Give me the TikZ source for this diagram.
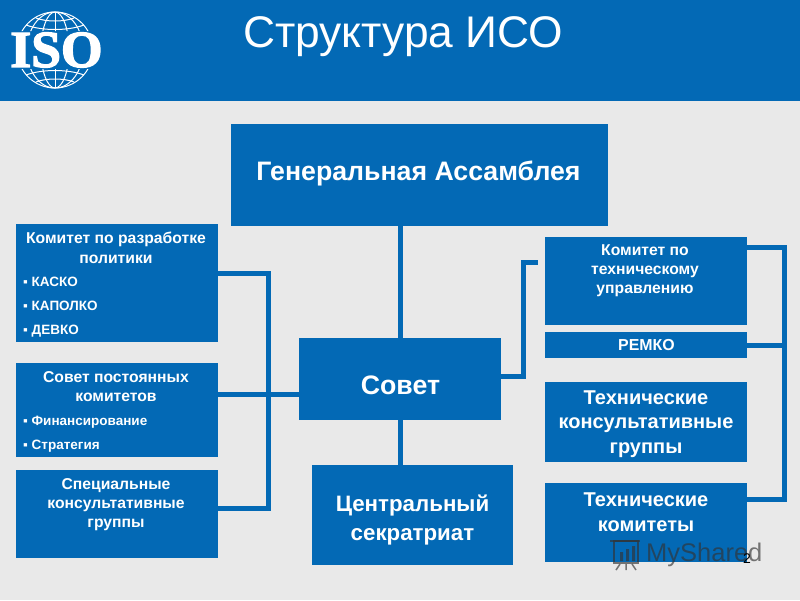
\documentclass[tikz,border=0pt]{standalone}
\usepackage{fontspec}
\setmainfont{Liberation Sans}
\newfontfamily\logofont[FakeBold=2.5]{Liberation Serif}
\definecolor{isoblue}{HTML}{0369B5}
\definecolor{isobg}{HTML}{E9E9E9}
\tikzset{
  bx/.style={fill=isoblue,inner sep=0pt,anchor=north west},
  lab/.style={text=white,font=\bfseries,align=center,inner sep=0pt},
  smalllab/.style={lab,font=\fontsize{15.7}{19.4}\selectfont\bfseries,anchor=north},
  midlab/.style={lab,font=\fontsize{20}{24.7}\selectfont\bfseries},
  biglab/.style={lab,font=\fontsize{22.3}{29}\selectfont\bfseries},
  hugelab/.style={lab,font=\fontsize{26.7}{30}\selectfont\bfseries},
  itemlab/.style={text=white,font=\fontsize{13.5}{14}\selectfont\bfseries,anchor=base west,inner sep=0pt},
  link/.style={draw=isoblue,line width=5pt},
  glob/.style={draw=white,line width=1pt}
}
\begin{document}
\begin{tikzpicture}[x=1pt,y=-1pt]
\useasboundingbox (0,0) rectangle (800,600);
\fill[isobg] (0,0) rectangle (800,600);
\fill[isoblue] (0,0) rectangle (800,101);
\node[text=white,font=\fontsize{44.3}{50}\selectfont,inner sep=0pt] (title) at (403,37) {Структура ИСО};

% logo
\begin{scope}
\clip (0,0) rectangle (110,31) (0,69) rectangle (110,100);
\draw[glob] (55,50) circle[radius=38];
\draw[glob] (55,50) ellipse[x radius=14,y radius=38];
\draw[glob] (55,50) ellipse[x radius=28,y radius=38];
\draw[glob] (55,12) -- (55,88);
\draw[glob] (26,25) .. controls (42,31) and (68,31) .. (84,25);
\draw[glob] (26,75) .. controls (42,69) and (68,69) .. (84,75);
\draw[glob] (36,18) .. controls (46,22) and (64,22) .. (74,18);
\draw[glob] (36,82) .. controls (46,78) and (64,78) .. (74,82);
\end{scope}
\node[text=white,font=\logofont\bfseries\fontsize{52}{52}\selectfont,inner sep=0pt,xscale=1.03] (iso) at (56.5,50) {ISO};

% boxes
\node[bx,minimum width=377,minimum height=102] (ga) at (231,124) {};
\node[bx,minimum width=202,minimum height=82] (sov) at (299,338) {};
\node[bx,minimum width=201,minimum height=100] (cen) at (312,465) {};
\node[bx,minimum width=202,minimum height=118] (lp) at (16,224) {};
\node[bx,minimum width=202,minimum height=94] (lc) at (16,363) {};
\node[bx,minimum width=202,minimum height=88] (ls) at (16,470) {};
\node[bx,minimum width=202,minimum height=88] (rt) at (545,237) {};
\node[bx,minimum width=202,minimum height=26] (rr) at (545,332) {};
\node[bx,minimum width=202,minimum height=80] (rk) at (545,382) {};
\node[bx,minimum width=202,minimum height=79] (rc) at (545,483) {};

% connectors
\draw[link] (ga.south -| sov.north) -- (sov.north);
\draw[link] (sov.south) -- (cen.north -| sov.south);
\coordinate (lbus) at (268,273);
\draw[link] (lp.east |- lbus) -- (lbus) -- (lbus |- 0,508) -- (ls.east |- 0,508);
\draw[link] (lc.east |- 0,394) -- (sov.west |- 0,394);
\coordinate (rjog) at (523,376);
\coordinate (rfree) at (538,262);
\draw[link] (sov.east |- rjog) -- (rjog) -- (rjog |- rfree) -- (rfree);
\coordinate (rbus) at (784,247);
\draw[link] (rt.east |- rbus) -- (rbus) -- (rbus |- 0,499) -- (rc.east |- 0,499);
\draw[link] (rr.east) -- (rr.east -| rbus);

% texts
\node[hugelab] at (418.5,173) {Генеральная Ассамблея};
\node[hugelab] at (400.5,385) {Совет};
\node[biglab] at (412.5,520) {Центральный\\секратриат};

\node[smalllab] at (116,232) {Комитет по разработке\\политики};
\node[itemlab] at (23,286) {▪ КАСКО};
\node[itemlab] at (23,310) {▪ КАПОЛКО};
\node[itemlab] at (23,334) {▪ ДЕВКО};

\node[smalllab] at (116,371) {Совет постоянных\\комитетов};
\node[itemlab] at (23,425) {▪ Финансирование};
\node[itemlab] at (23,449) {▪ Стратегия};

\node[smalllab] at (116,478) {Специальные\\консультативные\\группы};

\node[smalllab] at (645,244) {Комитет по\\техническому\\управлению};
\node[lab,font=\fontsize{15.9}{18}\selectfont\bfseries] at (646.5,345.5) {РЕМКО};
\node[midlab] at (646,424) {Технические\\консультативные\\группы};
\node[midlab] at (646,512) {Технические\\комитеты};

% watermark
\begin{scope}[opacity=.65,draw=black!80,text=black!80]
\draw[line width=2.5pt] (610,541) -- (640,541);
\draw[line width=2pt] (614,541) rectangle (638,563);
\fill[black!80] (620,552) rectangle (623,561) (626,549) rectangle (629,561) (632,546) rectangle (635,561);
\draw[line width=1.5pt] (620,564) -- (616,570) (626,564) -- (626,570) (632,564) -- (636,570);
\node[anchor=west,inner sep=0pt,font=\fontsize{25.5}{27}\selectfont] (mark) at (646,555) {MyShared};
\end{scope}
\node[text=black,font=\fontsize{14}{14}\selectfont,inner sep=0pt] (num) at (747,559) {2};
\end{tikzpicture}
\end{document}
